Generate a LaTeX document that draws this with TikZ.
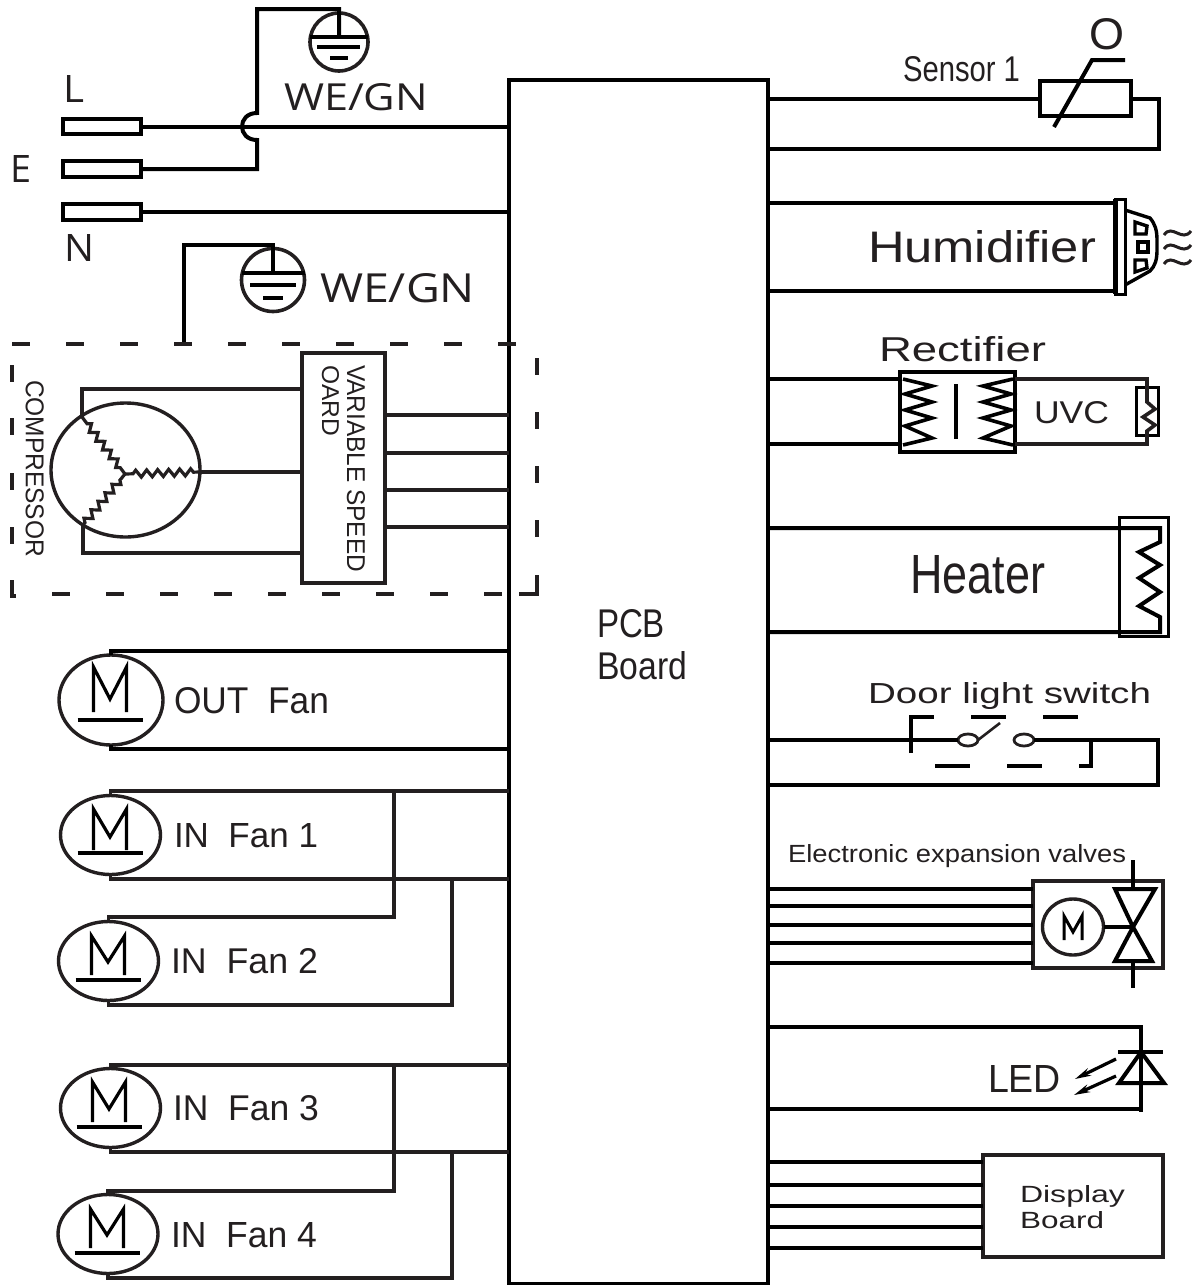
\documentclass[tikz,border=0pt]{standalone}
\usepackage{fontspec}
\usepackage{graphicx}
\setmainfont{Liberation Sans}
\newfontfamily\opensans{Open Sans}
\usetikzlibrary{shapes.geometric,decorations.pathmorphing,arrows.meta}
\definecolor{ink}{HTML}{231F20}
\newcommand{\fitbox}[3]{\resizebox{#1pt}{#2pt}{#3}}
\tikzset{
  wire/.style={draw=black,line width=4pt,line cap=butt,line join=miter},
  thinwire/.style={draw=ink,line width=3.6pt,line join=miter},
  boxn/.style={draw=black,rectangle,line width=4pt,inner sep=0pt,outer sep=0pt},
  motorn/.style={draw=ink,ellipse,line width=3.4pt,inner sep=0pt,outer sep=0pt},
  earthn/.style={draw=ink,circle,line width=3.6pt,inner sep=0pt,outer sep=0pt},
  lbl/.style={inner sep=0pt,outer sep=0pt,anchor=base west,text=ink},
  rlbl/.style={inner sep=0pt,outer sep=0pt,anchor=base west,text=ink,rotate=-90},
  zig/.style={draw=ink,line width=3.2pt,decorate,decoration={zigzag,segment length=11pt,amplitude=3.5pt,pre length=8pt,post length=3pt}},
  dashw/.style={draw=ink,line width=4pt},
}
\newcommand{\fanmotor}[5]{% name cx cy rx ry
  \node[motorn,minimum width=#4*2pt,minimum height=#5*2pt] (#1) at (#2,#3) {};
}
\begin{document}
\begin{tikzpicture}[x=1pt,y=-1pt]
\useasboundingbox (0,0) rectangle (1193,1285);
% PCB
\node[boxn,minimum width=259pt,minimum height=1204pt] (pcb) at (638.5,682) {};
\node[lbl] (pcbt1) at (597,637) {\fitbox{68}{28}{PCB}};
\node[lbl] (pcbt2) at (597,679) {\fitbox{90}{28}{Board}};
% Plugs
\node[boxn,minimum width=78.5pt,minimum height=15.5pt] (pL) at (102,126.5) {};
\node[boxn,minimum width=78.5pt,minimum height=15.5pt] (pE) at (102,169) {};
\node[boxn,minimum width=78.5pt,minimum height=15.5pt] (pN) at (102,212) {};
\node[lbl] (tL) at (63,102) {\fitbox{21}{27}{\opensans L}};
\node[lbl] (tE) at (10,182) {\fitbox{21}{27}{\opensans E}};
\node[lbl] (tN) at (64,261) {\fitbox{30}{27}{\opensans N}};
\draw[wire] (pL.east) -- (pL.east -| pcb.west);
\draw[wire] (pN.east) -- (pN.east -| pcb.west);
% Earth 1
\node[earthn,minimum size=58pt] (e1) at (339,42) {};
\coordinate (e1t) at (339,37);
\draw[wire] (pE.east) -- (257,169) -- (257,140) .. controls (237,140) and (237,113) .. (257,113) -- (257,9) -- (339,9) -- (e1t);
\draw[wire] (e1.west |- e1t) -- (e1.east |- e1t);
\draw[wire] (317,47) -- (360,47);
\draw[wire] (330,58) -- (348,58);
\node[lbl] (we1) at (284,110) {\fitbox{144}{27}{\opensans WE/GN}};
% Earth 2
\node[earthn,minimum size=63pt] (e2) at (273,280) {};
\coordinate (e2t) at (273,273);
\coordinate (dashtop) at (184,344);
\draw[wire] (dashtop) -- (184,245) -- (273,245) -- (e2t);
\draw[wire] (e2.west |- e2t) -- (e2.east |- e2t);
\draw[wire] (250,285) -- (296,285);
\draw[wire] (263,298) -- (283,298);
\node[lbl] (we2) at (320,302) {\fitbox{155}{29}{\opensans WE/GN}};
% dashed frame
\foreach \x in {12,66,120,174,228,282,336,390,444,498}{\draw[dashw] (\x,344) -- ++(18,0);}
\foreach \x in {52,106,160,214,268,322,376,430,484}{\draw[dashw] (\x,594) -- ++(18,0);}
\draw[dashw] (519,594) -- (539,594);
\draw[dashw] (12,365) -- (12,382);
\draw[dashw] (12,418) -- (12,435);
\draw[dashw] (12,473) -- (12,490);
\draw[dashw] (12,527) -- (12,544);
\draw[dashw,line join=miter] (12,580) -- (12,596) -- (16,596);
\foreach \y in {358,412,466,520,575}{\draw[dashw] (537,\y) -- ++(0,17);}
% Compressor
\node[motorn,minimum width=149pt,minimum height=134pt] (comp) at (125.5,470) {};
\node[boxn,draw=ink,line width=3.6pt,minimum width=83pt,minimum height=230pt] (vsb) at (343.5,468) {};
\coordinate (cstar) at (125,474);
\coordinate (cA) at (82,417);
\coordinate (cB) at (83,525);
\coordinate (cC) at (200,472);
\draw[zig] (cstar) -- (cA);
\draw[zig] (cstar) -- (cB);
\draw[zig] (cstar) -- (cC);
\draw[thinwire] (cA) -- (82,389) -- (vsb.west |- 0,389);
\draw[thinwire] (cB) -- (83,553) -- (vsb.west |- 0,553);
\draw[thinwire] (cC) -- (vsb.west |- cC);
\node[rlbl] (tcomp) at (26,380) {\fitbox{177}{18}{COMPRESSOR}};
\node[rlbl] (tvsb1) at (347,365) {\fitbox{207}{18}{VARIABLE SPEED}};
\node[rlbl] (tvsb2) at (322,365) {\fitbox{71}{17}{OARD}};
\foreach \y in {415,453,490,527}{\draw[thinwire] (vsb.east |- 0,\y) -- (pcb.west |- 0,\y);}
% Fans
\newcommand{\mglyph}[4]{% cx top bottom underline
  \draw[draw=black,line width=3.2pt,line join=miter] (#1-16.5,#3) -- (#1-16.5,#2) -- (#1,#3-13) -- (#1+16.5,#2) -- (#1+16.5,#3);
  \draw[draw=black,line width=4pt] (#1-32.5,#4) -- (#1+32.5,#4);
}
\fanmotor{m0}{111}{700}{52}{45}
\mglyph{110}{667}{712}{720}
\node[lbl] (t0) at (174,713) {\fitbox{155}{26}{OUT\ \ Fan}};
\coordinate (p0a) at (509,651);
\coordinate (p0b) at (509,749);
\draw[wire] (m0.north) |- (p0a);
\draw[wire] (m0.south) |- (p0b);
\fanmotor{m1}{110.5}{835}{50}{39.5}
\mglyph{110}{809}{850}{853}
\node[lbl] (t1) at (174,847) {\fitbox{144}{24}{IN\ \ Fan 1}};
\coordinate (p1a) at (509,791);
\coordinate (p1b) at (509,879);
\draw[thinwire] (m1.north) |- (p1a);
\draw[thinwire] (m1.south) |- (p1b);
\fanmotor{m2}{108.5}{961}{50}{39.5}
\mglyph{108}{936}{975}{980}
\node[lbl] (t2) at (171,973) {\fitbox{147}{25}{IN\ \ Fan 2}};
\coordinate (j1a) at (394,791);
\coordinate (j1b) at (452,879);
\draw[thinwire] (m2.north) |- (394,917) -- (j1a);
\draw[thinwire] (m2.south) |- (452,1005) -- (j1b);
\fanmotor{m3}{110.5}{1108}{50}{39.5}
\mglyph{109}{1082}{1122}{1127}
\node[lbl] (t3) at (173,1120) {\fitbox{146}{25}{IN\ \ Fan 3}};
\coordinate (p3a) at (509,1065);
\coordinate (p3b) at (509,1152);
\draw[thinwire] (m3.north) |- (p3a);
\draw[thinwire] (m3.south) |- (p3b);
\fanmotor{m4}{108}{1234}{50}{39.5}
\mglyph{107}{1209}{1248}{1253}
\node[lbl] (t4) at (171,1247) {\fitbox{146}{25}{IN\ \ Fan 4}};
\coordinate (j3a) at (394,1065);
\coordinate (j3b) at (452,1152);
\draw[thinwire] (m4.north) |- (394,1191) -- (j3a);
\draw[thinwire] (m4.south) |- (452,1278) -- (j3b);
% Sensor
\node[boxn,minimum width=91pt,minimum height=35pt] (sr) at (1085.5,98.5) {};
\draw[wire] (sr.west) -- (sr.west -| pcb.east);
\draw[wire] (sr.east) -- (1159,98.5) -- (1159,149) -- (pcb.east |- 0,149);
\draw[wire] (1054,127) -- (1092,60) -- (1125,60);
\node[lbl] (tO) at (1089,49) {\fitbox{35}{31}{O}};
\node[lbl] (tS) at (903,81) {\fitbox{117}{25}{Sensor 1}};
% Humidifier
\node[boxn,line width=3pt,minimum width=10pt,minimum height=95pt] (hb) at (1120,246.5) {};
\draw[wire,line width=5pt] (1115.5,199) -- (1115.5,294);
\draw[wire,line width=3.4pt] (1125,210) -- (1150,218) .. controls (1155,224) and (1157,230) .. (1157,240) -- (1157,250) .. controls (1157,260) and (1155,266) .. (1150,271) -- (1125,285);
\draw[wire] (hb.west |- 0,203) -- (pcb.east |- 0,203);
\draw[wire] (hb.west |- 0,291) -- (pcb.east |- 0,291);
\draw[line width=3.4pt] (1135,222) -- (1147,226) -- (1146,234) -- (1135,234) -- cycle;
\draw[line width=3.4pt] (1138,242) rectangle (1148,252);
\draw[line width=3.4pt] (1135,260) -- (1146,260) -- (1147,268) -- (1135,272) -- cycle;
\foreach \y in {233,247,262}{\draw[draw=ink,line width=3pt] (1164,\y+2) .. controls (1172,\y-10) and (1182,\y+10) .. (1191,\y-2);}
\node[lbl] (tH) at (868,262) {\fitbox{228}{32}{Humidifier}};
% Rectifier
\node[boxn,minimum width=115pt,minimum height=80pt] (rf) at (957.5,412) {};
\draw[wire] (rf.west |- 0,379) -- (pcb.east |- 0,379);
\draw[wire] (rf.west |- 0,444) -- (pcb.east |- 0,444);
\draw[wire,line width=3.6pt] (903,379) -- (932,386) -- (905,394) -- (932,402) -- (905,410) -- (932,418) -- (905,426) -- (932,438) -- (903,445);
\draw[wire,line width=3.6pt] (1013,379) -- (983,386) -- (1011,394) -- (983,402) -- (1011,410) -- (983,418) -- (1011,426) -- (983,438) -- (1013,445);
\draw[wire] (956,384) -- (956,439);
\node[lbl] (tR) at (879,361) {\fitbox{167}{25}{Rectifier}};
\node[lbl] (tU) at (1034,423) {\fitbox{75}{22}{UVC}};
\node[boxn,line width=3.4pt,minimum width=22pt,minimum height=48pt] (uv) at (1147.5,411.5) {};
\draw[thinwire] (rf.east |- 0,379) -- (1147,379) -- (1147,402) -- (1155,409) -- (1143,417) -- (1155,425) -- (1147,431) -- (1147,444) -- (rf.east |- 0,444);
% Heater
\node[boxn,line width=3.4pt,minimum width=49pt,minimum height=119pt] (ht) at (1144,577) {};
\draw[wire] (pcb.east |- 0,528) -- (1160,528) -- (1160,542) -- (1139,552) -- (1160,565) -- (1139,578) -- (1160,592) -- (1139,606) -- (1160,617) -- (1160,632) -- (pcb.east |- 0,632);
\node[lbl] (tHt) at (910,593) {\fitbox{135}{38}{Heater}};
% Door switch
\node[lbl] (tD) at (868,703) {\fitbox{283}{21}{Door light switch}};
\node[draw=ink,ellipse,line width=2.8pt,minimum width=20pt,minimum height=12pt,inner sep=0pt,outer sep=0pt] (swa) at (968,740) {};
\node[draw=ink,ellipse,line width=2.8pt,minimum width=20pt,minimum height=12pt,inner sep=0pt,outer sep=0pt] (swb) at (1024,740) {};
\draw[wire] (swa.west) -- (pcb.east |- swa.west);
\draw[wire] (swb.east) -- (1158,740) -- (1158,785) -- (pcb.east |- 0,785);
\draw[draw=ink,line width=2.6pt] (swa.east) -- (1000,723);
\draw[wire] (911,753) -- (911,717) -- (934,717);
\draw[wire] (971,717) -- (1006,717);
\draw[wire] (1043,717) -- (1078,717);
\draw[wire] (935,766) -- (970,766);
\draw[wire] (1007,766) -- (1042,766);
\draw[wire] (1079,766) -- (1091,766) -- (1091,741);
% Expansion valve
\node[lbl] (tV) at (788,862) {\fitbox{338}{18}{Electronic expansion valves}};
\node[boxn,draw=ink,minimum width=130pt,minimum height=87pt] (ev) at (1098,924.5) {};
\foreach \y in {889,906,925,943,963}{\draw[wire] (ev.west |- 0,\y) -- (pcb.east |- 0,\y);}
\node[motorn,minimum width=61pt,minimum height=56pt] (evm) at (1073,927) {};
\draw[draw=black,line width=3pt,line join=miter] (1064,940) -- (1064,916) -- (1073,932) -- (1082,916) -- (1082,940);
\coordinate (vc) at (1133,927);
\draw[wire] (evm.east) -- (vc);
\draw[wire] (1115,889) -- (1155,889) -- (vc) -- cycle;
\draw[wire] (1115,961) -- (1152,961) -- (vc) -- cycle;
\draw[wire] (1133,860) -- (1133,890);
\draw[wire] (1133,961) -- (1133,988);
% LED
\draw[wire] (pcb.east |- 0,1027) -- (1141,1027) -- (1141,1112);
\draw[wire] (pcb.east |- 0,1109) -- (1141,1109);
\draw[wire] (1118,1052) -- (1163,1052);
\draw[wire] (1141,1052) -- (1119,1083) -- (1164,1083) -- cycle;
\draw[draw=black,line width=3.2pt,-{Stealth[length=16pt,width=8pt]}] (1116,1059) -- (1075,1079);
\draw[draw=black,line width=3.2pt,-{Stealth[length=16pt,width=8pt]}] (1116,1076) -- (1074,1095);
\node[lbl] (tLED) at (988,1092) {\fitbox{73}{27}{LED}};
% Display
\node[boxn,draw=ink,minimum width=180pt,minimum height=102pt] (db) at (1073,1206) {};
\foreach \y in {1162,1185,1206,1227,1248}{\draw[wire] (db.west |- 0,\y) -- (pcb.east |- 0,\y);}
\node[lbl] (tD1) at (1020,1202) {\fitbox{105}{17}{Display}};
\node[lbl] (tD2) at (1020,1228) {\fitbox{84}{17}{Board}};
\end{tikzpicture}
\end{document}
